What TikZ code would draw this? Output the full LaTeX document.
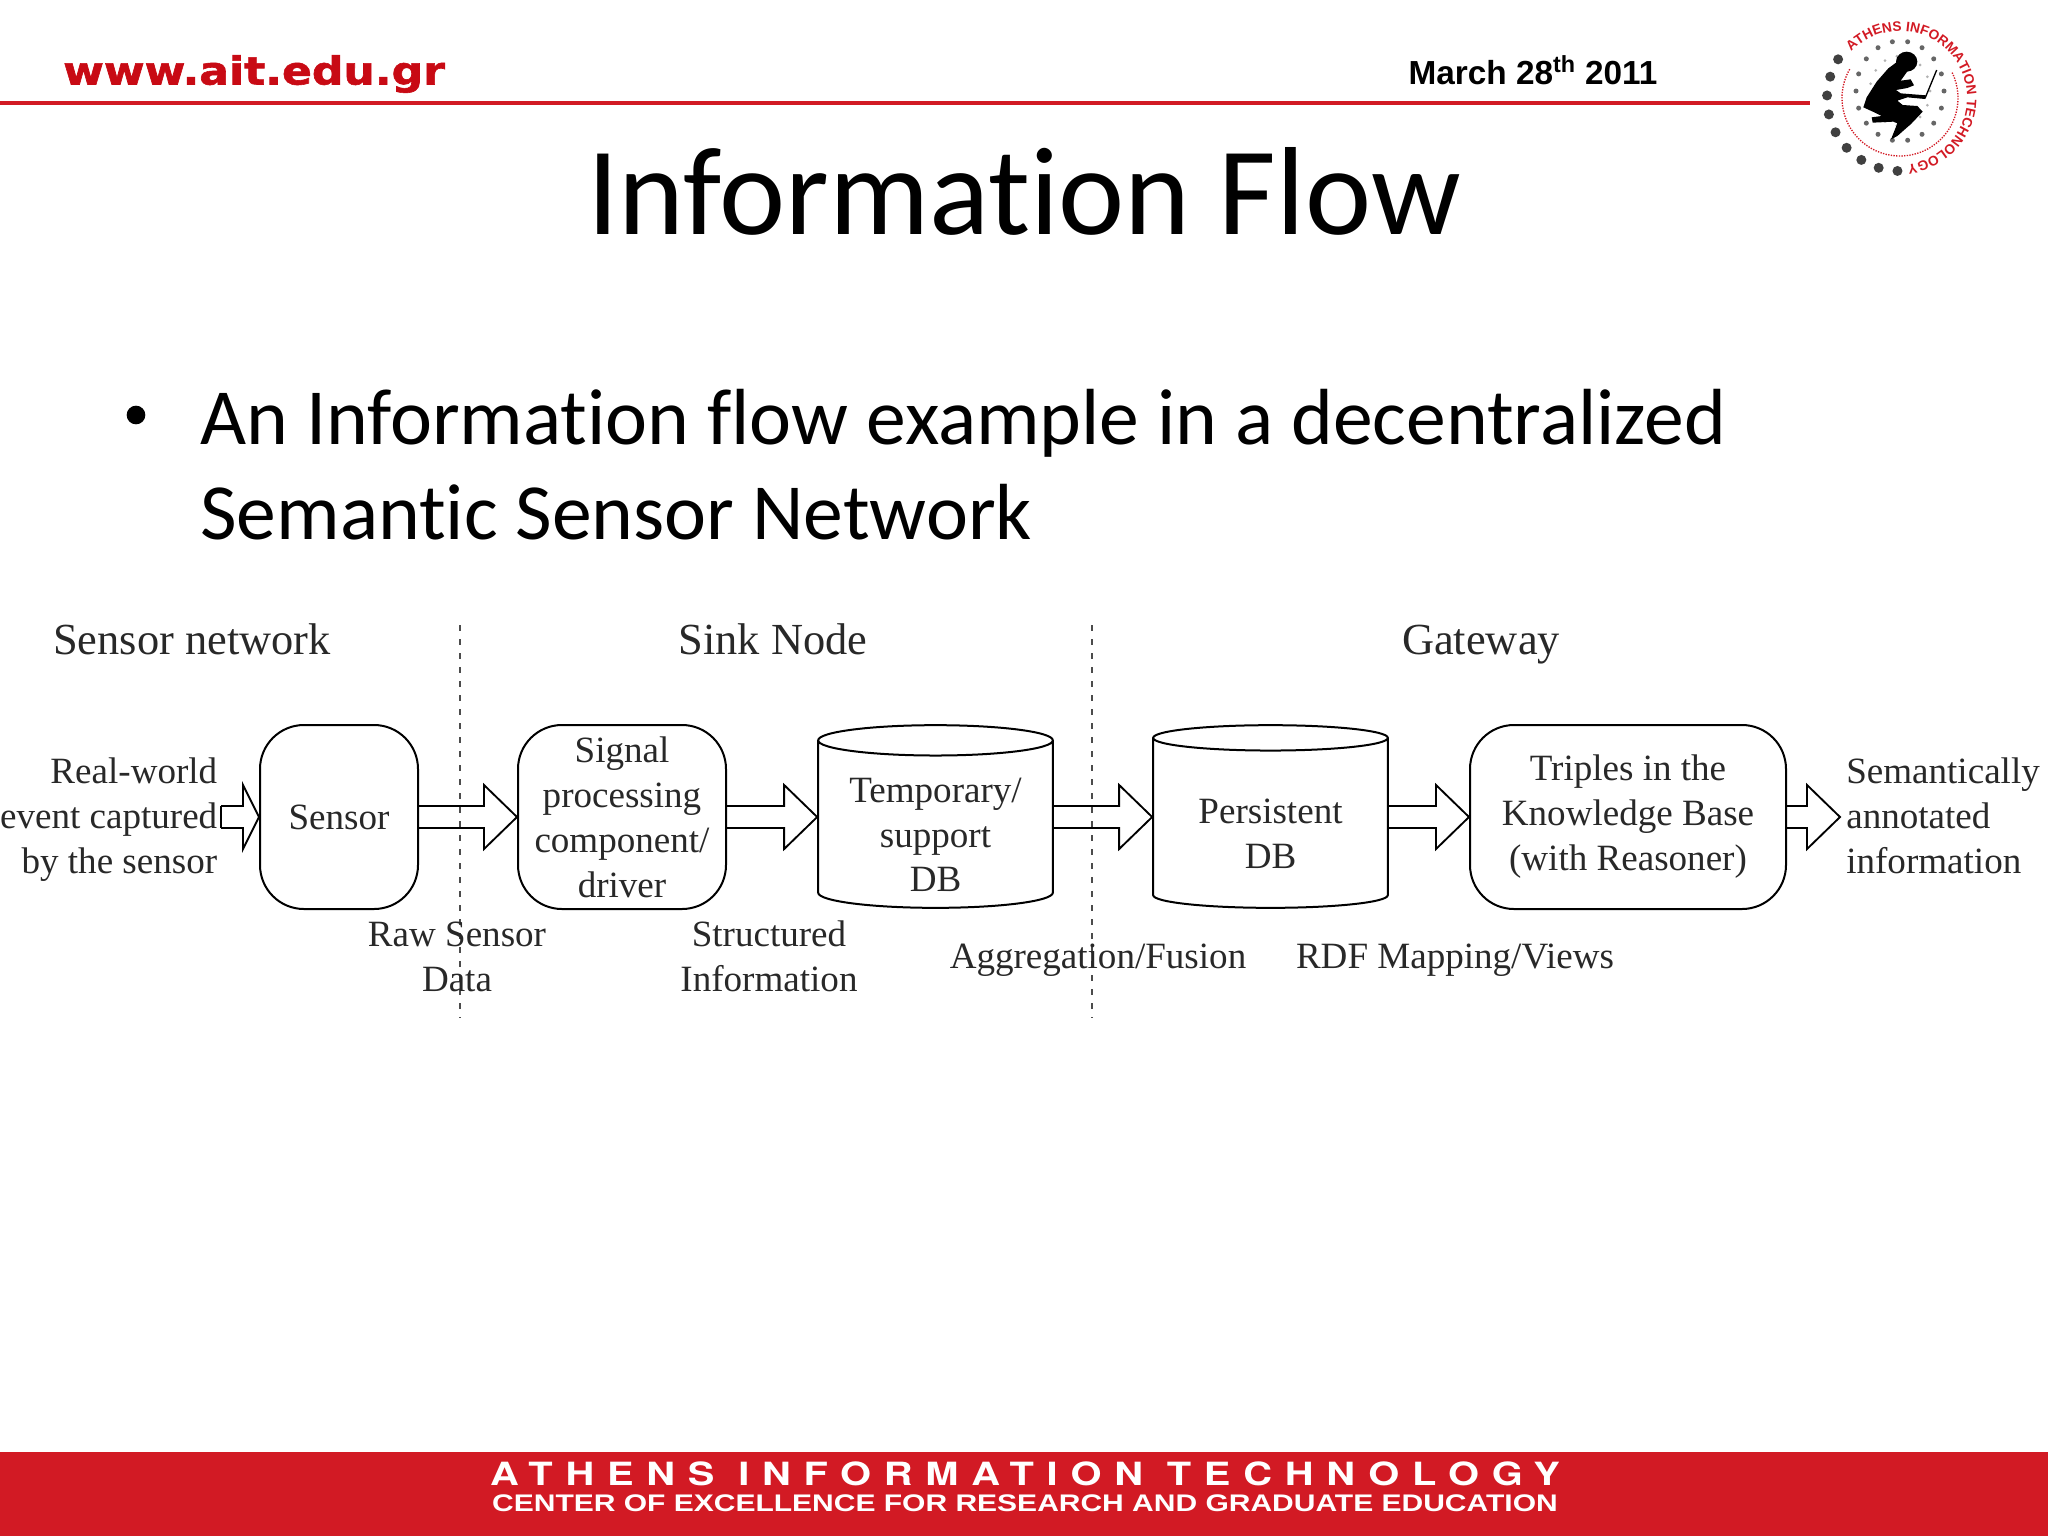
\documentclass[tikz,border=0pt]{standalone}
\usepackage{fontspec}
\setmainfont[Ligatures=NoCommon]{Carlito}
\newfontfamily\timesfont{Liberation Serif}
\newfontfamily\arialfont{Liberation Sans}
\newfontfamily\headfont[BoldFeatures={FakeBold=1.5}]{DejaVu Sans}
\newfontfamily\bandfont[LetterSpace=32]{TeX Gyre Heros}
\usetikzlibrary{shapes.geometric,calc,decorations.text}
\definecolor{aitred}{RGB}{210,26,36}
\definecolor{webred}{RGB}{200,10,20}
\definecolor{inkgrey}{RGB}{40,40,40}
\newcommand{\flowfont}{\timesfont\fontsize{27.8}{33.7}\selectfont}
\newcommand{\tierfont}{\timesfont\fontsize{33.3}{36}\selectfont}
\tikzset{
	flowbox/.style={draw=black,line width=1.5pt,rounded corners=33pt,align=center,inner sep=0pt,text=inkgrey,font=\flowfont},
	flowdb/.style={draw=black,line width=1.5pt,cylinder,shape border rotate=90,aspect=0.176,minimum width=176pt,minimum height=137pt,align=center,inner sep=0pt,anchor=shape center,text=inkgrey,font=\flowfont},
	flowlabel/.style={inner sep=0.75pt,align=center,text=inkgrey,font=\flowfont},
	tierlabel/.style={inner sep=0pt,anchor=base,text=inkgrey,font=\tierfont},
	flowline/.style={draw=black,line width=1.4pt,line join=miter},
	tierline/.style={draw=black!70,line width=1pt,dash pattern={on 4.5pt off 6pt}},
	logodot/.style={fill=black!75,draw=none},
}
\newcommand{\flowarrow}[3][33]{
	\draw [flowline] ($(#2)+(0,-11)$) -- ($(#3)+(-#1,-11)$) -- ($(#3)+(-#1,-32)$) -- (#3) -- ($(#3)+(-#1,32)$) -- ($(#3)+(-#1,11)$) -- ($(#2)+(0,11)$) ;
}
\begin{document}
\begin{tikzpicture}[x=0.75pt,y=0.75pt,yscale=-1,xscale=1]
	\useasboundingbox (0,0) rectangle (2048,1536);
	
	%Shape: Rectangle [footer band]
	\fill [aitred] (0,1452) rectangle (2048,1536);
	%Straight Lines [header rule]
	\draw [aitred,line width=3pt] (0,103) -- (1810,103);
	
	% Text Node
	\draw (254,74) node (website) [inner sep=0pt,text=webred,xscale=1.14] {\headfont\bfseries\fontsize{29}{32}\selectfont www.ait.edu.gr};
	% Text Node
	\draw (1533,70) node (datestamp) [inner sep=0pt] {\arialfont\bfseries\fontsize{25}{30}\selectfont March 28\textsuperscript{th} 2011};
	% Text Node
	\draw (1024,191) node (slidetitle) [inner sep=0pt] {\fontsize{94}{100}\selectfont Information Flow};
	% Text Node
	\draw (136,415) node (bulletdot) [circle,fill=black,inner sep=0pt,minimum size=14pt] {};
	% Text Node
	\draw (200,444) node (bulletone) [anchor=base west,inner sep=0pt] {\fontsize{59.7}{72}\selectfont An Information flow example in a decentralized};
	% Text Node
	\draw (200,539) node (bullettwo) [anchor=base west,inner sep=0pt] {\fontsize{59.7}{72}\selectfont Semantic Sensor Network};
	
	%Straight Lines [tier separators]
	\draw [tierline] (460,625) -- (460,1018) ;
	\draw [tierline] (1092,625) -- (1092,1018) ;
	
	% Text Node
	\draw (192,654) node (tiersensor) [tierlabel] {Sensor network};
	% Text Node
	\draw (773,654) node (tiersink) [tierlabel] {Sink Node};
	% Text Node
	\draw (1481,654) node (tiergateway) [tierlabel] {Gateway};
	
	%Shape: Boxes and cylinders
	\draw (339,817) node (sensor) [flowbox,minimum width=118.5pt,minimum height=138pt] {Sensor};
	\draw (622,817) node (signal) [flowbox,minimum width=156pt,minimum height=138pt] {Signal\\processing\\component/\\driver};
	\draw (935.5,816.5) node (tempdb) [flowdb] {\mbox{}\\Temporary/\\support\\DB};
	\draw (1270.5,816.5) node (persistdb) [flowdb] {\mbox{}\\Persistent\\DB};
	\draw (1628,817) node (triples) [flowbox,minimum width=237pt,minimum height=138pt] {Triples in the\\Knowledge Base\\(with Reasoner)};
	
	%Straight Lines [free ends]
	\coordinate (worldin) at (221,817);
	\coordinate (annotatedout) at (1840,817);
	
	%Straight Lines [hollow arrows]
	\flowarrow[16]{worldin}{sensor.west}
	\draw [flowline] ($(worldin)+(0,-11)$) -- ($(worldin)+(0,11)$) ;
	\flowarrow{sensor.east}{signal.west}
	\flowarrow{signal.east}{tempdb.west |- signal.east}
	\flowarrow{tempdb.east |- signal.east}{persistdb.west |- signal.east}
	\flowarrow{persistdb.east |- signal.east}{triples.west}
	\flowarrow{triples.east}{annotatedout}
	
	% Text Node
	\draw (218.5,820) node (worldlabel) [flowlabel,anchor=east,align=right] {Real-world\\event captured\\by the sensor};
	% Text Node
	\draw (1845,815.5) node (outlabel) [flowlabel,anchor=west,align=left] {Semantically\\annotated\\information};
	% Text Node
	\draw (457,957) node (rawlabel) [flowlabel] {Raw Sensor\\Data};
	% Text Node
	\draw (769,956.5) node (structlabel) [flowlabel] {Structured\\Information};
	% Text Node
	\draw (1098,960.5) node (fusionlabel) [flowlabel] {Aggregation/Fusion};
	% Text Node
	\draw (1455,960.5) node (rdflabel) [flowlabel] {RDF Mapping/Views};
	
	% Text Node
	\draw (1025,1474) node (bandtop) [inner sep=0pt,text=white,xscale=1.245] {\bandfont\bfseries\fontsize{24}{26}\selectfont ATHENS INFORMATION TECHNOLOGY};
	% Text Node
	\draw (1025,1503) node (bandbottom) [inner sep=0pt,text=white,xscale=1.25] {\arialfont\bfseries\fontsize{18}{20}\selectfont CENTER OF EXCELLENCE FOR RESEARCH AND GRADUATE EDUCATION};
	
	%Shape: Logo
	\foreach \a in {92,107,...,212} \fill [logodot] (1900,98) ++(\a:73) circle (5);
	\foreach \a in {0,20,...,340} \fill [black!60] (1900,91) ++(\a:44 and 50) circle (2.5);
	\foreach \a in {0,24,...,336} \fill [black!30] (1900,91) ++(\a:30 and 35) circle (1.5);
	\draw [aitred,line width=1pt,dash pattern={on 1pt off 1pt}] (1900,98) ++(-26:58) arc (-26:211:58);
	\path [decorate,decoration={text along path,text align=center,text={|\arialfont\bfseries\fontsize{10.3}{11}\selectfont\color{aitred}|ATHENS INFORMATION TECHNOLOGY}}] (1900,98) ++(219:67) arc (219:448:67);
	\begin{scope}[shift={(1810,10)},scale=1/3]
		\fill [black] (290,155) ellipse (32 and 30);
		\fill [black] (262,155) -- (235,175) -- (200,215) -- (170,262) -- (160,292) -- (195,308) -- (215,318) -- (185,322) -- (188,338) -- (250,335) -- (262,340) -- (243,388) -- (262,378) -- (305,340) -- (338,305) -- (322,288) -- (278,285) -- (262,272) -- (292,262) -- (345,267) -- (348,256) -- (272,250) -- (258,240) -- (292,234) -- (312,226) -- (302,208) -- (272,212) -- (295,180) -- cycle;
		\draw [black,line width=1pt] (345,265) -- (380,180);
	\end{scope}
\end{tikzpicture}
\end{document}
